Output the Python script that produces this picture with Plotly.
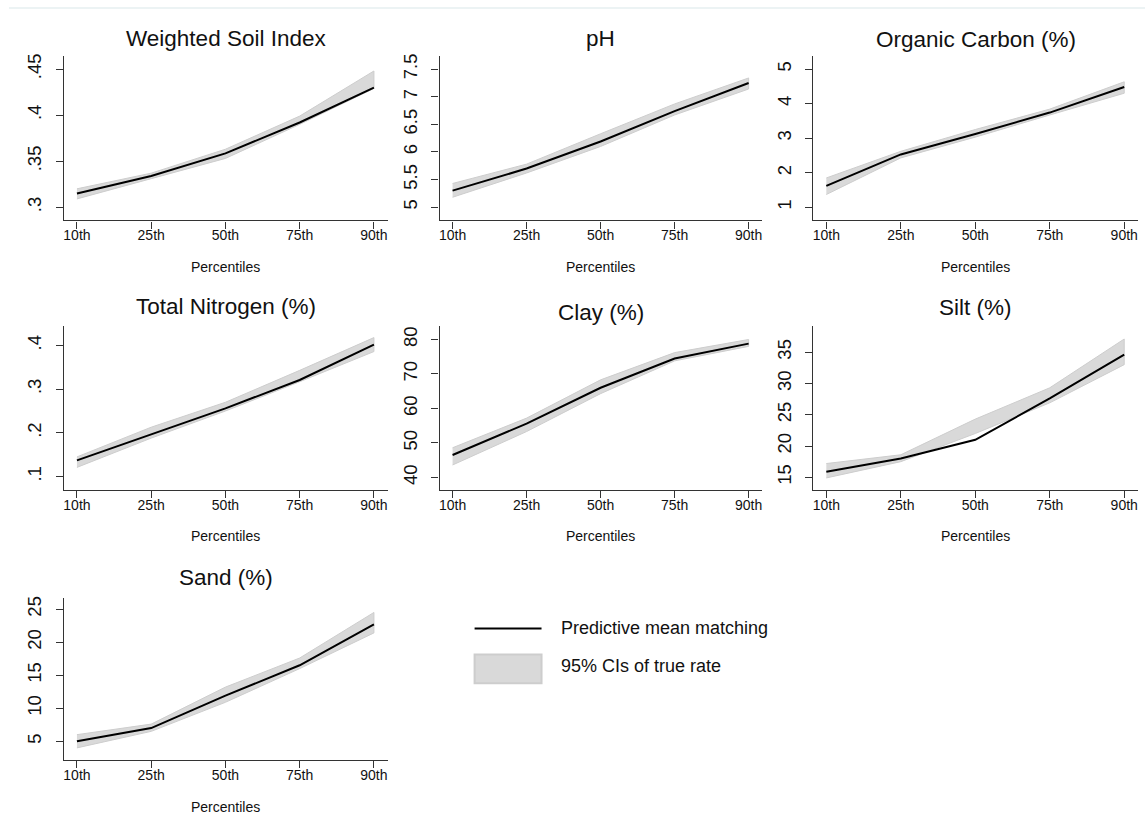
import plotly.graph_objects as go

W, H = 1145, 834

categories = ["10th", "25th", "50th", "75th", "90th"]

titles = ["Weighted Soil Index", "pH", "Organic Carbon (%)", "Total Nitrogen (%)",
          "Clay (%)", "Silt (%)", "Sand (%)"]

wsi_mean = [0.315, 0.334, 0.3585, 0.392, 0.430]
wsi_lo = [0.309, 0.331, 0.353, 0.390, 0.429]
wsi_hi = [0.320, 0.337, 0.363, 0.399, 0.448]

ph_mean = [5.30, 5.70, 6.19, 6.74, 7.25]
ph_lo = [5.18, 5.62, 6.10, 6.67, 7.14]
ph_hi = [5.43, 5.78, 6.33, 6.87, 7.34]

oc_mean = [1.62, 2.53, 3.12, 3.74, 4.48]
oc_lo = [1.37, 2.43, 3.03, 3.67, 4.30]
oc_hi = [1.85, 2.62, 3.25, 3.84, 4.63]

tn_mean = [0.137, 0.196, 0.256, 0.321, 0.402]
tn_lo = [0.121, 0.188, 0.250, 0.317, 0.386]
tn_hi = [0.145, 0.213, 0.270, 0.343, 0.418]

clay_mean = [46.5, 55.6, 66.0, 74.5, 78.8]
clay_lo = [43.6, 53.3, 64.3, 73.8, 78.0]
clay_hi = [48.6, 57.2, 68.3, 76.2, 80.0]

silt_mean = [15.9, 18.0, 21.0, 27.6, 34.6]
silt_lo = [14.9, 17.5, 22.0, 26.9, 33.0]
silt_hi = [17.2, 18.6, 24.3, 29.3, 37.1]

sand_mean = [5.0, 7.0, 11.9, 16.5, 22.7]
sand_lo = [4.0, 6.5, 10.9, 16.0, 21.4]
sand_hi = [6.0, 7.6, 13.2, 17.6, 24.5]

wsi_ticks = [0.3, 0.35, 0.4, 0.45]
wsi_ticktext = [".3", ".35", ".4", ".45"]
ph_ticks = [5, 5.5, 6, 6.5, 7, 7.5]
ph_ticktext = ["5", "5.5", "6", "6.5", "7", "7.5"]
oc_ticks = [1, 2, 3, 4, 5]
oc_ticktext = ["1", "2", "3", "4", "5"]
tn_ticks = [0.1, 0.2, 0.3, 0.4]
tn_ticktext = [".1", ".2", ".3", ".4"]
clay_ticks = [40, 50, 60, 70, 80]
clay_ticktext = ["40", "50", "60", "70", "80"]
silt_ticks = [15, 20, 25, 30, 35]
silt_ticktext = ["15", "20", "25", "30", "35"]
sand_ticks = [5, 10, 15, 20, 25]
sand_ticktext = ["5", "10", "15", "20", "25"]

legend_labels = ["Predictive mean matching", "95% CIs of true rate"]

panels = [
    (wsi_mean, wsi_lo, wsi_hi, [0.2856, 0.4644], wsi_ticks, wsi_ticktext),
    (ph_mean, ph_lo, ph_hi, [4.76, 7.74], ph_ticks, ph_ticktext),
    (oc_mean, oc_lo, oc_hi, [0.62, 5.38], oc_ticks, oc_ticktext),
    (tn_mean, tn_lo, tn_hi, [0.0697, 0.444], tn_ticks, tn_ticktext),
    (clay_mean, clay_lo, clay_hi, [36.4, 83.85], clay_ticks, clay_ticktext),
    (silt_mean, silt_lo, silt_hi, [13.0, 39.14], silt_ticks, silt_ticktext),
    (sand_mean, sand_lo, sand_hi, [2.14, 26.75], sand_ticks, sand_ticktext),
]

# pixel boxes of each plot region: (left, right, top, bottom)
boxes = [
    (63, 387, 54, 219), (439, 762, 54, 219), (813, 1138, 54, 219),
    (63, 387, 325, 489), (439, 762, 325, 489), (813, 1138, 325, 489),
    (63, 387, 597, 760),
]
title_y = [37, 37, 37.5, 305, 311, 306, 577]

FONT = "Liberation Sans, Arial, sans-serif"
AX = "#333333"
BAND = "#d9d9d9"
BAND_EDGE = "#cdcdcd"

fig = go.Figure()
layout = dict(
    width=W, height=H, margin=dict(l=0, r=0, t=0, b=0),
    paper_bgcolor="white", plot_bgcolor="white", showlegend=False,
    font=dict(family=FONT, color="#111111"),
)
annotations = []
shapes = []

for i, (mean, lo, hi, yr, tv, tt) in enumerate(panels):
    n = i + 1
    xa = "x" if n == 1 else f"x{n}"
    ya = "y" if n == 1 else f"y{n}"
    fig.add_trace(go.Scatter(
        x=categories + categories[::-1], y=hi + lo[::-1],
        fill="toself", fillcolor=BAND, mode="lines",
        line=dict(color=BAND_EDGE, width=1),
        xaxis=xa, yaxis=ya, hoverinfo="skip"))
    fig.add_trace(go.Scatter(
        x=categories, y=mean, mode="lines",
        line=dict(color="black", width=2),
        xaxis=xa, yaxis=ya))
    l, r, t, b = boxes[i]
    layout[f"xaxis{'' if n == 1 else n}"] = dict(
        domain=[l / W, r / W], anchor=ya, type="category",
        range=[-0.175, 4.185], showgrid=False, zeroline=False,
        showline=True, linecolor=AX, linewidth=1.3,
        ticks="outside", ticklen=7, tickwidth=1.3, tickcolor=AX,
        ticklabelstandoff=-5,
        tickfont=dict(size=14, family=FONT, color="#111111"),
    )
    layout[f"yaxis{'' if n == 1 else n}"] = dict(
        domain=[1 - b / H, 1 - t / H], anchor=xa,
        range=yr, showgrid=False, zeroline=False,
        showline=True, linecolor=AX, linewidth=1.3,
        ticks="outside", ticklen=7, tickwidth=1.3, tickcolor=AX,
        tickvals=tv, ticktext=tt, tickangle=-90,
        ticklabelstandoff=7,
        tickfont=dict(size=18.5, family=FONT, color="#111111"),
    )
    annotations.append(dict(
        text=titles[i], x=(l + r) / 2 / W, y=1 - title_y[i] / H,
        xref="paper", yref="paper", xanchor="center", yanchor="middle",
        showarrow=False, font=dict(size=22.5, family=FONT, color="#111111")))
    annotations.append(dict(
        text="Percentiles", x=(l + r) / 2 / W, y=1 - (b + 46.5) / H,
        xref="paper", yref="paper", xanchor="center", yanchor="middle",
        showarrow=False, font=dict(size=14, family=FONT, color="#111111")))

# legend (drawn manually)
shapes.append(dict(type="line", xref="paper", yref="paper",
                   x0=474 / W, x1=541 / W, y0=1 - 628 / H, y1=1 - 628 / H,
                   line=dict(color="black", width=2)))
shapes.append(dict(type="rect", xref="paper", yref="paper",
                   x0=474 / W, x1=541 / W, y0=1 - 683 / H, y1=1 - 654 / H,
                   fillcolor=BAND, line=dict(color=BAND_EDGE, width=2)))
annotations.append(dict(text=legend_labels[0], x=558 / W, y=1 - 628 / H,
                        xref="paper", yref="paper", xanchor="left", yanchor="middle",
                        showarrow=False, font=dict(size=18, family=FONT, color="#111111")))
annotations.append(dict(text=legend_labels[1], x=558 / W, y=1 - 666 / H,
                        xref="paper", yref="paper", xanchor="left", yanchor="middle",
                        showarrow=False, font=dict(size=18, family=FONT, color="#111111")))
# thin frame line at top
shapes.append(dict(type="line", xref="paper", yref="paper",
                   x0=8 / W, x1=1, y0=1 - 6 / H, y1=1 - 6 / H,
                   line=dict(color="#e6eff0", width=1.5)))

layout["annotations"] = annotations
layout["shapes"] = shapes
fig.update_layout(**layout)
fig.write_html("out.html")
